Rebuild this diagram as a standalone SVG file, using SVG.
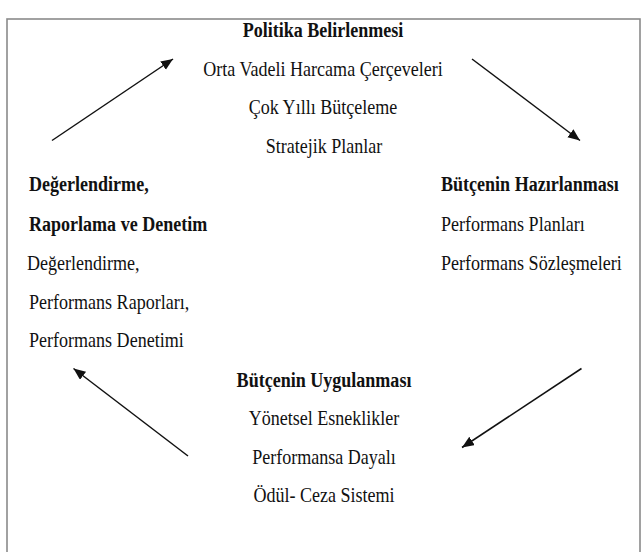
<svg xmlns="http://www.w3.org/2000/svg" width="644" height="552" viewBox="0 0 644 552">
  <style>
    .t { font-family: "Liberation Serif", "Times New Roman", serif; font-size: 20.5px; fill: #111; }
    .b { font-weight: bold; }
    .c { text-anchor: middle; }
    .frame { fill: #fff; stroke: #8a8a8a; stroke-width: 1.6; }
    .arrow { stroke: #111; stroke-width: 1.5; fill: none; marker-end: url(#ah); }
  </style>
  <defs>
    <marker id="ah" markerUnits="userSpaceOnUse" markerWidth="14" markerHeight="12" refX="12" refY="5" orient="auto">
      <path d="M0,0 L12,5 L0,10 Z" fill="#111"/>
    </marker>
  </defs>
  <rect width="644" height="552" fill="#fff"/>
  <rect class="frame" x="7" y="19" width="633" height="545"/>

  <g id="politika">
    <text class="t b c" transform="translate(323,37) scale(0.88,1)">Politika Belirlenmesi</text>
    <text class="t c" transform="translate(323,76) scale(0.88,1)">Orta Vadeli Harcama Çerçeveleri</text>
    <text class="t c" transform="translate(323,114) scale(0.88,1)">Çok Yıllı Bütçeleme</text>
    <text class="t c" transform="translate(324,153) scale(0.88,1)">Stratejik Planlar</text>
  </g>

  <g id="hazirlanma">
    <text class="t b" transform="translate(441,191) scale(0.88,1)">Bütçenin Hazırlanması</text>
    <text class="t" transform="translate(441,231) scale(0.88,1)">Performans Planları</text>
    <text class="t" transform="translate(441,270) scale(0.88,1)">Performans Sözleşmeleri</text>
  </g>

  <g id="degerlendirme">
    <text class="t b" transform="translate(29,191) scale(0.88,1)">Değerlendirme,</text>
    <text class="t b" transform="translate(29,231) scale(0.88,1)">Raporlama ve Denetim</text>
    <text class="t" transform="translate(27,270) scale(0.88,1)">Değerlendirme,</text>
    <text class="t" transform="translate(29,309) scale(0.88,1)">Performans Raporları,</text>
    <text class="t" transform="translate(29,347) scale(0.88,1)">Performans Denetimi</text>
  </g>

  <g id="uygulama">
    <text class="t b c" transform="translate(324,387) scale(0.88,1)">Bütçenin Uygulanması</text>
    <text class="t c" transform="translate(324,425) scale(0.88,1)">Yönetsel Esneklikler</text>
    <text class="t c" transform="translate(324,464) scale(0.88,1)">Performansa Dayalı</text>
    <text class="t c" transform="translate(324,502) scale(0.88,1)">Ödül- Ceza Sistemi</text>
  </g>

  <g id="connectors">
    <line class="arrow" x1="52" y1="140.5" x2="173" y2="59"/>
    <line class="arrow" x1="472" y1="59" x2="580" y2="140.5"/>
    <line class="arrow" x1="581.5" y1="368.5" x2="462" y2="447.5"/>
    <line class="arrow" x1="188" y1="456" x2="73.5" y2="368.5"/>
  </g>
</svg>
